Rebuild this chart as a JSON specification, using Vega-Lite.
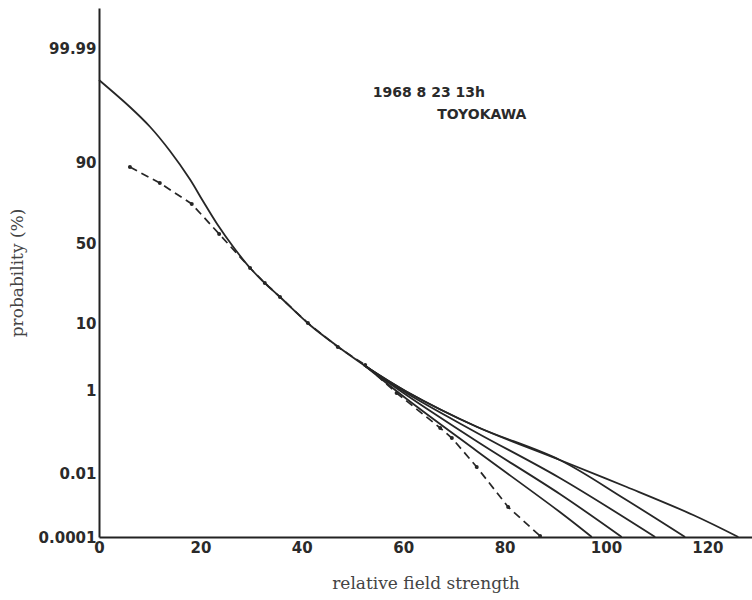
{
  "$schema": "https://vega.github.io/schema/vega-lite/v6.json",
  "width": 653,
  "height": 529,
  "autosize": {"type": "none"},
  "padding": {"left": 99, "top": 8, "right": 0, "bottom": 63},
  "background": "white",
  "config": {
    "view": {"stroke": null},
    "axis": {
      "grid": false,
      "ticks": false,
      "domainColor": "#222222",
      "domainWidth": 2,
      "labelColor": "#2a2a2a",
      "labelFont": "DejaVu Sans",
      "labelFontWeight": "bold",
      "labelFontSize": 15,
      "titleFont": "DejaVu Serif",
      "titleFontWeight": "normal",
      "titleFontSize": 17,
      "titleColor": "#444444"
    }
  },
  "datasets": {
    "curves": [
      {"series": "main", "x": 0, "pz": 457},
      {"series": "main", "x": 6.1, "pz": 430},
      {"series": "main", "x": 10.1, "pz": 410},
      {"series": "main", "x": 14.0, "pz": 386},
      {"series": "main", "x": 17.9, "pz": 358},
      {"series": "main", "x": 20.5, "pz": 336},
      {"series": "main", "x": 23.3, "pz": 313},
      {"series": "main", "x": 26.5, "pz": 290},
      {"series": "main", "x": 29.8, "pz": 269},
      {"series": "main", "x": 32.7, "pz": 254},
      {"series": "main", "x": 35.7, "pz": 240},
      {"series": "main", "x": 41.6, "pz": 212},
      {"series": "main", "x": 47.5, "pz": 189},
      {"series": "main", "x": 52.5, "pz": 171},

      {"series": "A", "x": 52.5, "pz": 171},
      {"series": "A", "x": 60.7, "pz": 138},
      {"series": "A", "x": 74.5, "pz": 86},
      {"series": "A", "x": 90.9, "pz": 25},
      {"series": "A", "x": 97.2, "pz": 0},

      {"series": "B", "x": 52.5, "pz": 171},
      {"series": "B", "x": 60.7, "pz": 141.7},
      {"series": "B", "x": 74.5, "pz": 95.7},
      {"series": "B", "x": 90.9, "pz": 43},
      {"series": "B", "x": 103.1, "pz": 0},

      {"series": "C", "x": 52.5, "pz": 171},
      {"series": "C", "x": 60.7, "pz": 143.7},
      {"series": "C", "x": 74.5, "pz": 104.3},
      {"series": "C", "x": 90.9, "pz": 59},
      {"series": "C", "x": 109.7, "pz": 0},

      {"series": "D", "x": 52.5, "pz": 171},
      {"series": "D", "x": 60.7, "pz": 145.3},
      {"series": "D", "x": 74.5, "pz": 110.3},
      {"series": "D", "x": 90.9, "pz": 77},
      {"series": "D", "x": 103.4, "pz": 39},
      {"series": "D", "x": 115.6, "pz": 0},

      {"series": "E", "x": 52.5, "pz": 171},
      {"series": "E", "x": 60.7, "pz": 145.3},
      {"series": "E", "x": 74.5, "pz": 110.3},
      {"series": "E", "x": 90.9, "pz": 77},
      {"series": "E", "x": 104.1, "pz": 50},
      {"series": "E", "x": 117.2, "pz": 22},
      {"series": "E", "x": 126.1, "pz": 0}
    ],
    "observed": [
      {"x": 6.1, "pz": 370},
      {"x": 12.0, "pz": 354},
      {"x": 18.3, "pz": 333},
      {"x": 23.7, "pz": 303},
      {"x": 29.8, "pz": 269},
      {"x": 32.7, "pz": 254},
      {"x": 35.7, "pz": 240},
      {"x": 41.2, "pz": 214},
      {"x": 47.1, "pz": 190},
      {"x": 52.5, "pz": 172},
      {"x": 58.7, "pz": 144},
      {"x": 67.3, "pz": 109},
      {"x": 69.6, "pz": 99},
      {"x": 74.5, "pz": 70},
      {"x": 80.7, "pz": 30},
      {"x": 87.0, "pz": 1}
    ],
    "notes": [
      {"x": 54.0, "pz": 444, "label": "1968 8 23 13h"},
      {"x": 66.7, "pz": 422, "label": "TOYOKAWA"}
    ]
  },
  "encoding": {
    "x": {
      "field": "x",
      "type": "quantitative",
      "scale": {"domain": [0, 128.8], "nice": false, "zero": false},
      "axis": {
        "title": "relative field strength",
        "values": [0, 20, 40, 60, 80, 100, 120],
        "labelPadding": 3,
        "titlePadding": 20,
        "labelFlush": false
      }
    },
    "y": {
      "field": "pz",
      "type": "quantitative",
      "scale": {"domain": [0, 529], "nice": false, "zero": false},
      "axis": {
        "title": "probability (%)",
        "values": [0, 64, 147, 214, 294, 375, 489],
        "labelExpr": "datum.value == 0 ? '0.0001' : datum.value == 64 ? '0.01' : datum.value == 147 ? '1' : datum.value == 214 ? '10' : datum.value == 294 ? '50' : datum.value == 375 ? '90' : '99.99'",
        "labelPadding": 3,
        "titlePadding": 12,
        "labelFlush": false
      }
    }
  },
  "layer": [
    {
      "data": {"name": "curves"},
      "mark": {"type": "line", "interpolate": "catmull-rom", "color": "#262626", "strokeWidth": 1.8},
      "encoding": {"detail": {"field": "series"}}
    },
    {
      "data": {"name": "observed"},
      "mark": {"type": "line", "color": "#262626", "strokeWidth": 1.7, "strokeDash": [8, 5]}
    },
    {
      "data": {"name": "observed"},
      "mark": {"type": "point", "filled": true, "color": "#262626", "size": 16, "opacity": 1}
    },
    {
      "data": {"name": "notes"},
      "mark": {"type": "text", "align": "left", "baseline": "middle", "font": "DejaVu Sans", "fontWeight": "bold", "fontSize": 14, "color": "#2a2a2a"},
      "encoding": {"text": {"field": "label"}}
    }
  ]
}
